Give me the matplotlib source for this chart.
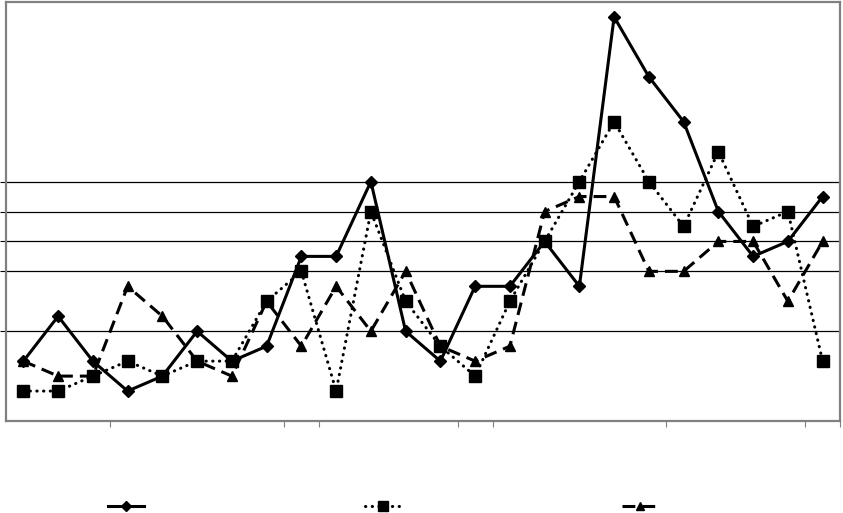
import numpy as np
import matplotlib
matplotlib.use("Agg")
import matplotlib.pyplot as plt

# values (24 categories, unlabelled)
series_a = [2, 3.5, 2, 1, 1.5, 3, 2, 2.5, 5.5, 5.5, 8, 3, 2, 4.5, 4.5, 6,
            4.5, 13.5, 11.5, 10, 7, 5.5, 6, 7.5]
series_b = [1, 1, 1.5, 2, 1.5, 2, 2, 4, 5, 1, 7, 4, 2.5, 1.5, 4, 6,
            8, 10, 8, 6.5, 9, 6.5, 7, 2]
series_c = [2, 1.5, 1.5, 4.5, 3.5, 2, 1.5, 4, 2.5, 4.5, 3, 5, 2.5, 2, 2.5, 7,
            7.5, 7.5, 5, 5, 6, 6, 4, 6]
y_ticks = [3, 5, 6, 7, 8]
x_breaks = [3, 8, 9, 13, 14, 19, 23, 24]  # category boundaries with tick marks

x = np.arange(len(series_a))

fig = plt.figure(figsize=(8.43, 5.13), dpi=100)
ax = fig.add_axes([6 / 843, 1 - 421 / 513, 834 / 843, 419 / 513])

ax.plot(x, series_a, color="black", lw=2.2, ls="-", marker="D", ms=6.5,
        label=" ")
ax.plot(x, series_b, color="black", lw=2.2, ls=(0, (0.1, 2.1)),
        dash_capstyle="round", marker="s", ms=8.5, label=" ")
ax.plot(x, series_c, color="black", lw=2.2, ls=(0, (4.2, 2.3)), marker="^",
        ms=7, label=" ")

ax.set_xlim(-0.5, len(x) - 0.5)
ax.set_ylim(0, 14)

ax.set_yticks(y_ticks)
ax.set_yticklabels([])
ax.yaxis.grid(True, color="black", lw=0.9)
ax.set_xticks([b - 0.5 for b in x_breaks])
ax.set_xticklabels([])
ax.tick_params(axis="both", direction="out", length=4.5, width=0.8,
               color="black")
ax.tick_params(axis="x", color="#808080")

for side in ["left", "bottom", "top", "right"]:
    ax.spines[side].set_color("#808080")
    ax.spines[side].set_linewidth(1.6)

fig.legend(loc="center", bbox_to_anchor=(386 / 843, 6 / 513), ncol=3,
           frameon=False, handlelength=2.6, handletextpad=0.1,
           columnspacing=15.5, markerscale=0.85, fontsize=10)

fig.savefig("out.png", dpi=100)
plt.close(fig)
